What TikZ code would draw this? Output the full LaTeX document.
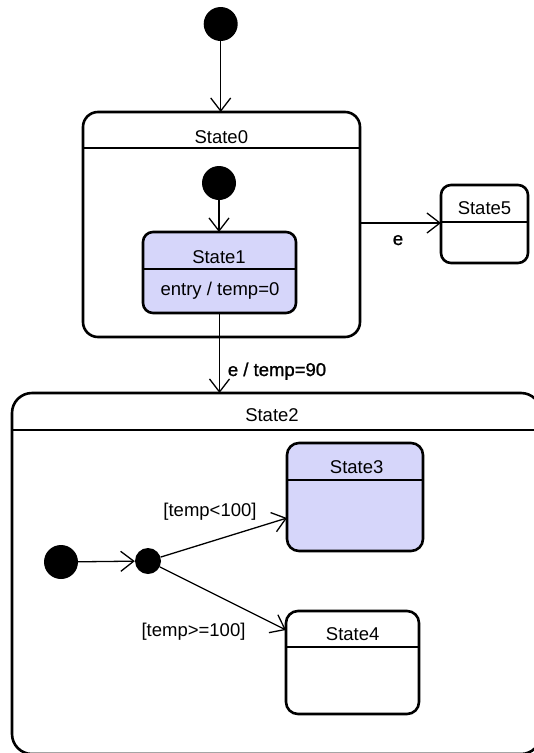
\documentclass[tikz,border=0pt]{standalone}
\usepackage{fontspec}
\setmainfont{Liberation Sans}
\newfontfamily\semibold[FakeBold=1.2]{Liberation Sans}
\usetikzlibrary{arrows.meta}
\definecolor{stfill}{RGB}{214,214,250}

\begin{document}
\begin{tikzpicture}[x=1pt, y=-1pt,
        state/.style={draw, line width=2.6pt, rounded corners=#1, inner sep=0pt, outer sep=0pt},
        state/.default=10pt,
        init/.style={circle, fill=black, inner sep=0pt, minimum size=#1},
        init/.default=34pt,
        trans/.style={line width=1.3pt, -{Straight Barb[length=13pt, width=20pt]}},
        divider/.style={line width=1.3pt},
        txt/.style={anchor=base, inner sep=0pt, font=\fontsize{18.5}{22}\selectfont}]
    \useasboundingbox (0,0) rectangle (534,753);

    % states
    \node[state=15pt, minimum width=277, minimum height=225] (s0) at (221.5,224.5) {};
    \node[state, fill=stfill, minimum width=153, minimum height=81] (s1) at (219.5,272.5) {};
    \node[state, minimum width=87, minimum height=78] (s5) at (484.5,224) {};
    \node[state=20pt, minimum width=529, minimum height=361] (s2) at (276.5,573.5) {};
    \node[state=12pt, fill=stfill, minimum width=136, minimum height=108] (s3) at (355,497) {};
    \node[state=12pt, minimum width=133, minimum height=103] (s4) at (352.5,662.5) {};

    \foreach \s/\y in {s0/148, s1/269, s5/222, s2/430, s3/480, s4/647}
        \draw[divider] (\s.west |- 0,\y) -- (\s.east |- 0,\y);

    \foreach \s/\x/\y/\t in {s0/221.3/143/State0, s1/219/263/State1, s5/484.5/214/State5,
            s2/272/421/State2, s3/356.7/473/State3, s4/352.7/640/State4}
        \node[txt] (\s-t) at (\x,\y) {\t};
    \node[txt] (s1-e) at (220,295) {entry / temp=0};

    % pseudo states
    \node[init] (i0) at (220.7,24) {};
    \node[init] (i1) at (219,183) {};
    \node[init] (i2) at (61,562) {};
    \node[init=26pt] (j) at (148,561) {};

    % transitions
    \draw[trans] (i0) -- (i0 |- s0.north);
    \draw[trans] (i1) -- (i1 |- s1.north);
    \draw[trans] (s0.east |- 0,223) -- (s5.west |- 0,223)
        node[txt, font=\fontsize{18.5}{22}\semibold] (e1) at (398,245) {e};
    \draw[trans] (s1) -- (s1 |- s2.north)
        node[txt, font=\fontsize{18.5}{22}\semibold] (e2) at (277,376) {e / temp=90};
    \draw[trans] (i2) -- (j);
    \draw[trans] (j) -- ([yshift=-21pt]s3.west)
        node[txt] (g1) at (210,516) {[temp<100]};
    \draw[trans] (j) -- ([yshift=-19pt]s4.north west)
        node[txt] (g2) at (193.5,636) {[temp>=100]};
\end{tikzpicture}
\end{document}
